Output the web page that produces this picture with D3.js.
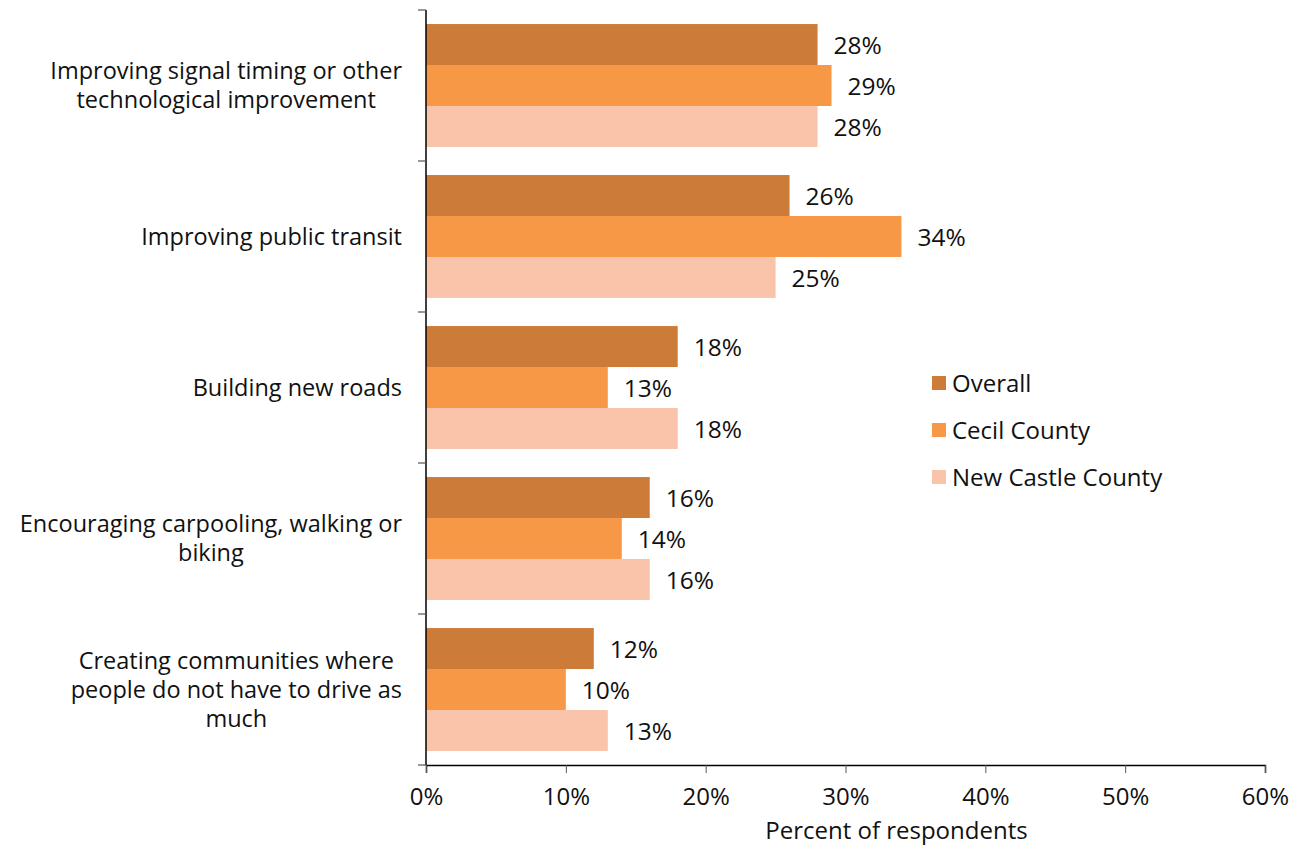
<!DOCTYPE html>
<html>
<head>
<meta charset="utf-8">
<script src="https://cdn.jsdelivr.net/npm/d3@7"></script>
<style>
  html, body { margin: 0; padding: 0; background: #fff; }
  svg text { font-family: "Open Sans", "Noto Sans", sans-serif; fill: #111; }
</style>
</head>
<body>
<svg id="chart" width="1304" height="845"></svg>
<script>
// Survey responses: preferred ways to reduce congestion
const categories = [
  "Improving signal timing or other technological improvement",
  "Improving public transit",
  "Building new roads",
  "Encouraging carpooling, walking or biking",
  "Creating communities where people do not have to drive as much"
];
const categoryLines = [
  ["Improving signal timing or other", "technological improvement"],
  ["Improving public transit"],
  ["Building new roads"],
  ["Encouraging carpooling, walking or", "biking"],
  ["Creating communities where", "people do not have to drive as", "much"]
];
const seriesNames = ["Overall", "Cecil County", "New Castle County"];
const overall = [28, 26, 18, 16, 12];
const cecil = [29, 34, 13, 14, 10];
const newCastle = [28, 25, 18, 16, 13];
const seriesColors = ["#CD7B39", "#F79847", "#F9C4A9"];
const xTicks = [0, 10, 20, 30, 40, 50, 60];
const axisTitle = "Percent of respondents";

const seriesValues = [overall, cecil, newCastle];

const svg = d3.select("#chart");
const margin = { left: 426, top: 10, right: 39, bottom: 80 };
const width = 1304 - margin.left - margin.right;
const height = 845 - margin.top - margin.bottom;

const g = svg.append("g").attr("transform", `translate(${margin.left},${margin.top})`);

const x = d3.scaleLinear().domain([0, 60]).range([0, width]);
const y = d3.scaleBand().domain(categories).range([0, height]).paddingInner(0.186).paddingOuter(0.093);
const yBand = d3.scaleBand().domain(categories).range([0, height]);
const ySub = d3.scaleBand().domain(seriesNames).range([0, y.bandwidth()]);

// Bars with value labels
categories.forEach((c, i) => {
  const grp = g.append("g").attr("transform", `translate(0,${y(c)})`);
  seriesNames.forEach((s, j) => {
    const v = seriesValues[j][i];
    grp.append("rect")
      .attr("x", x(0))
      .attr("y", ySub(s))
      .attr("width", x(v) - x(0))
      .attr("height", ySub.bandwidth())
      .attr("fill", seriesColors[j]);
    grp.append("text")
      .attr("x", x(v) + 16)
      .attr("y", ySub(s) + ySub.bandwidth() / 2)
      .attr("dy", "0.38em")
      .style("font-size", "24.5px")
      .text(v + "%");
  });
});

// Y axis: line and category boundary ticks
g.append("line").attr("x1", 0).attr("x2", 0).attr("y1", 0).attr("y2", height)
  .attr("stroke", "#000").attr("stroke-width", 1.5);
const boundaries = categories.map(c => yBand(c)).concat([height]);
g.selectAll(".ytick").data(boundaries).enter().append("line")
  .attr("x1", -8).attr("x2", 0)
  .attr("y1", d => d).attr("y2", d => d)
  .attr("stroke", "#555").attr("stroke-width", 1.2);

// Category labels: each block right-aligned, lines centred within the block
const labelRight = -24;
categories.forEach((c, i) => {
  const lines = categoryLines[i];
  const lh = 29;
  const cy = yBand(c) + yBand.bandwidth() / 2;
  const t = g.append("text")
    .style("font-size", "23.5px");
  const spans = lines.map((ln, k) => t.append("tspan")
    .attr("y", cy + (k - (lines.length - 1) / 2) * lh)
    .attr("dy", "0.35em")
    .text(ln));
  const widths = spans.map(sp => sp.node().getComputedTextLength());
  const blockW = d3.max(widths);
  const center = labelRight - blockW / 2;
  spans.forEach(sp => sp.attr("x", center).attr("text-anchor", "middle"));
});

// X axis
const xAxis = g.append("g").attr("transform", `translate(0,${height})`)
  .call(d3.axisBottom(x).tickValues(xTicks).tickFormat(d => d + "%").tickSize(8).tickPadding(15));
xAxis.select(".domain").attr("stroke", "#000").attr("stroke-width", 1.5);
xAxis.selectAll(".tick line").attr("stroke", "#555");
xAxis.selectAll(".tick text").style("font-size", "24px").attr("fill", "#111")
  .style("font-family", '"Open Sans", "Noto Sans", sans-serif');

svg.append("text")
  .attr("x", margin.left + x(34) - 5)
  .attr("y", 839)
  .attr("text-anchor", "middle")
  .style("font-size", "24px")
  .text(axisTitle);

// Legend
const legend = svg.append("g").attr("transform", "translate(932,383)");
seriesNames.forEach((s, j) => {
  const row = legend.append("g").attr("transform", `translate(0,${j * 47})`);
  row.append("rect").attr("x", 0).attr("y", -7).attr("width", 14).attr("height", 14).attr("fill", seriesColors[j]);
  row.append("text").attr("x", 20).attr("y", 0).attr("dy", "0.36em").style("font-size", "24px").text(s);
});
</script>
</body>
</html>
